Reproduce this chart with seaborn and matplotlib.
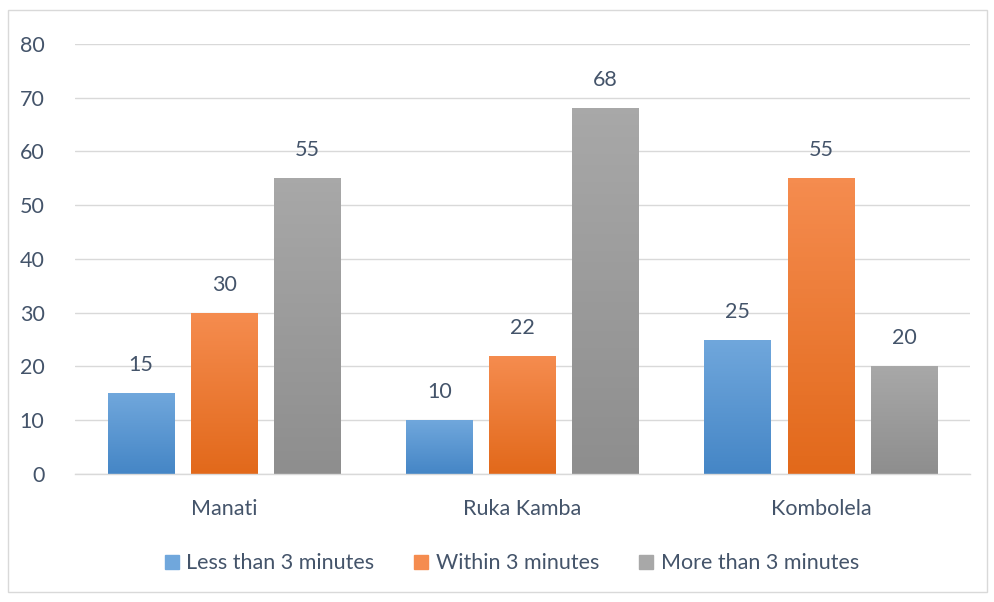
import numpy as np
import pandas as pd
import matplotlib
matplotlib.use('Agg')
import matplotlib.pyplot as plt
import seaborn as sns
from matplotlib.colors import LinearSegmentedColormap
from matplotlib.patches import Rectangle

OUTPUT_FILE = 'out.png'

# --- Data ---
categories = ['Manati', 'Ruka Kamba', 'Kombolela']
series = ['Less than 3 minutes', 'Within 3 minutes', 'More than 3 minutes']
less_than_3 = [15, 10, 25]
within_3 = [30, 22, 55]
more_than_3 = [55, 68, 20]
y_ticks = [0, 10, 20, 30, 40, 50, 60, 70, 80]

# gradient colours (top, bottom) per series, Excel-style
grad = {
    'Less than 3 minutes': ('#70A7DC', '#4586C6'),
    'Within 3 minutes': ('#F58C4F', '#E2691B'),
    'More than 3 minutes': ('#A8A8A8', '#8E8E8E'),
}
TEXT = '#44546A'
FS = 15.5


def main():
    df = pd.DataFrame({
        'site': categories * 3,
        'group': [s for s in series for _ in categories],
        'value': less_than_3 + within_3 + more_than_3,
    })

    sns.set_theme(style='white')
    plt.rcParams['font.family'] = ['Lato', 'DejaVu Sans']

    fig = plt.figure(figsize=(9.94, 6.02), dpi=100)
    ax = fig.add_axes([0.0755, 0.2126, 0.9005, 0.7144])

    palette = {s: grad[s][1] for s in series}
    sns.barplot(data=df, x='site', y='value', hue='group', order=categories,
                hue_order=series, palette=palette, width=0.835, gap=0.195,
                ax=ax, legend=False, saturation=1, linewidth=0)

    # --- gradient fill clipped to each bar ---
    for cont, s in zip(ax.containers, series):
        cmap = LinearSegmentedColormap.from_list(s, [grad[s][1], grad[s][0]])
        for bar in cont:
            x0, y0 = bar.get_x(), bar.get_y()
            w, h = bar.get_width(), bar.get_height()
            img = ax.imshow(np.linspace(0, 1, 64).reshape(-1, 1), cmap=cmap,
                            extent=[x0, x0 + w, y0, y0 + h], origin='lower',
                            aspect='auto', zorder=bar.get_zorder() + 0.1)
            img.set_clip_path(bar)
        ax.bar_label(cont, padding=13, fontsize=FS, color=TEXT)

    ax.set_xlim(-0.5, 2.5)
    ax.set_ylim(0, 80)
    ax.set_yticks(y_ticks)
    ax.set_yticklabels([str(t) for t in y_ticks], fontsize=FS, color=TEXT)
    ax.tick_params(axis='x', labelsize=FS, labelcolor=TEXT, length=0, pad=18)
    ax.tick_params(axis='y', length=0, pad=22)
    ax.set_xlabel('')
    ax.set_ylabel('')
    ax.yaxis.grid(True, color='#D9D9D9', linewidth=1)
    ax.set_axisbelow(True)
    for sp in ['top', 'right', 'left']:
        ax.spines[sp].set_visible(False)
    ax.spines['bottom'].set_color('#D9D9D9')
    ax.spines['bottom'].set_linewidth(1)

    handles = [Rectangle((0, 0), 1, 1, color=grad[s][0]) for s in series]
    fig.legend(handles, series, loc='center', bbox_to_anchor=(0.515, 0.064),
               ncol=3, frameon=False, fontsize=FS, handlelength=0.65,
               handleheight=0.65, handletextpad=0.35, columnspacing=1.85,
               labelcolor=TEXT)

    # outer chart border
    fig.patches.append(Rectangle((8 / 994, 10 / 602), 979 / 994, 582 / 602,
                                 transform=fig.transFigure, fill=False,
                                 edgecolor='#D9D9D9', linewidth=1))

    plt.savefig(OUTPUT_FILE, dpi=100)


if __name__ == '__main__':
    main()
